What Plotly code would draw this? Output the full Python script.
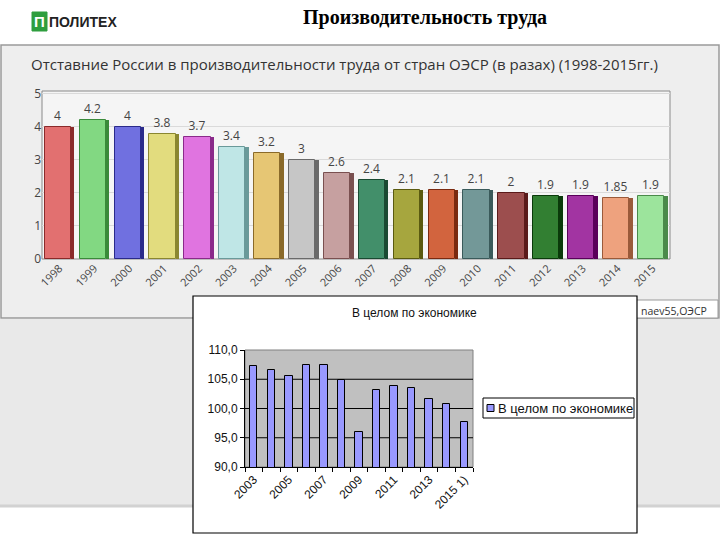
import plotly.graph_objects as go

# ---- data: top chart ----
years_top = ["1998","1999","2000","2001","2002","2003","2004","2005","2006",
             "2007","2008","2009","2010","2011","2012","2013","2014","2015"]
gap_values = [4, 4.2, 4, 3.8, 3.7, 3.4, 3.2, 3, 2.6, 2.4, 2.1, 2.1, 2.1, 2, 1.9, 1.9, 1.85, 1.9]
gap_labels = ["4","4.2","4","3.8","3.7","3.4","3.2","3","2.6","2.4","2.1","2.1","2.1","2","1.9","1.9","1.85","1.9"]
front_colors = ["#e27070","#82d882","#7070e0","#e2dc7e","#e074e0","#bfe6e6","#e6c674","#c6c6c6",
                "#c6a0a0","#428f6a","#a6a63e","#d2643e","#739898","#9c4e4e","#327f32","#a234a2",
                "#eea27e","#9ce49c"]
side_colors = ["#8a2a2a","#3a8a3a","#2a2a8a","#8a8630","#8a2a8a","#6a9a9a","#8a6a2a","#6a6a6a",
               "#7a5050","#1a4a32","#5a5a10","#7a2a10","#3a5a5a","#5a1a1a","#0a3a0a","#5a005a",
               "#9a5a3a","#4a8a4a"]

# ---- data: inset chart ----
years_inset = ["2003","2004","2005","2006","2007","2008","2009","2010","2011","2012","2013","2014","2015 1)"]
inset_values = [107.2, 106.5, 105.5, 107.5, 107.5, 104.8, 95.9, 103.2, 103.9, 103.5, 101.7, 100.7, 97.7]
inset_ticks = [90, 95, 100, 105, 110]
inset_grid = [95, 100, 105]
inset_name = "В целом по экономике"
inset_color = "#9999ff"

W, H = 720, 540
def px(x): return x / W
def py(y): return 1 - y / H

fig = go.Figure()

# top chart: side faces then front faces
fig.add_trace(go.Bar(x=years_top, y=gap_values, width=0.1, offset=0.33,
                     marker=dict(color=side_colors, line=dict(width=0)),
                     showlegend=False, hoverinfo="skip", xaxis="x", yaxis="y"))
fig.add_trace(go.Bar(x=years_top, y=gap_values, width=0.75, offset=-0.42,
                     marker=dict(color=front_colors, line=dict(color=side_colors, width=1)),
                     text=gap_labels, textposition="outside", cliponaxis=False,
                     textfont=dict(family="Open Sans", size=12, color="#444444"),
                     showlegend=False, xaxis="x", yaxis="y"))

# inset chart
fig.add_trace(go.Bar(x=years_inset, y=inset_values, name=inset_name, width=0.42,
                     marker=dict(color=inset_color, line=dict(color="#000000", width=1)),
                     showlegend=False, xaxis="x2", yaxis="y2"))

shapes = [
    # top panel
    dict(type="rect", xref="paper", yref="paper", x0=px(1), x1=px(719), y0=py(318), y1=py(45),
         fillcolor="#eeeeee", line=dict(color="#9a9a9a", width=1.5), layer="below"),
    # gray band below
    dict(type="rect", xref="paper", yref="paper", x0=0, x1=1, y0=py(505), y1=py(319),
         fillcolor="#e9e9e9", line=dict(width=0), layer="below"),
    dict(type="line", xref="paper", yref="paper", x0=0, x1=1, y0=py(506), y1=py(506),
         line=dict(color="#d2d2d2", width=3), layer="below"),
    # top chart plot area
    dict(type="rect", xref="x domain", yref="y domain", x0=0, x1=1, y0=0, y1=1,
         fillcolor="#f5f5f5", line=dict(color="#8a8a8a", width=1), layer="below"),
    # source box
    dict(type="rect", xref="paper", yref="paper", x0=px(600), x1=px(718), y0=py(318), y1=py(300),
         fillcolor="#ffffff", line=dict(color="#9a9a9a", width=1), layer="below"),
    # inset box
    dict(type="rect", xref="paper", yref="paper", x0=px(193), x1=px(637), y0=py(533), y1=py(296),
         fillcolor="#ffffff", line=dict(color="#000000", width=1.2), layer="below"),
    # inset plot area
    dict(type="rect", xref="x2 domain", yref="y2 domain", x0=0, x1=1, y0=0, y1=1,
         fillcolor="#c0c0c0", line=dict(color="#808080", width=1), layer="below"),
    # inset legend box and swatch
    dict(type="rect", xref="paper", yref="paper", x0=px(483), x1=px(634), y0=py(418), y1=py(398),
         fillcolor="#ffffff", line=dict(color="#000000", width=1), layer="below"),
    dict(type="rect", xref="paper", yref="paper", x0=px(487), x1=px(494), y0=py(411.5), y1=py(404.5),
         fillcolor=inset_color, line=dict(color="#000000", width=1), layer="above"),
    # logo
    dict(type="rect", xref="paper", yref="paper", x0=px(32), x1=px(47), y0=py(31), y1=py(12),
         fillcolor="#2e9e3e", line=dict(color="#2e9e3e", width=1), layer="below"),
]
for g in inset_grid:
    shapes.append(dict(type="line", xref="x2 domain", yref="y2", x0=0, x1=1, y0=g, y1=g,
                       line=dict(color="#000000", width=1), layer="below"))

def ann(text, x, y, size, family, color, xanchor="center"):
    return dict(text=text, x=px(x), y=py(y), xref="paper", yref="paper", xanchor=xanchor,
                yanchor="middle", showarrow=False, font=dict(family=family, size=size, color=color))

annotations = [
    ann("<b>Производительность труда</b>", 425, 18, 20, "Liberation Serif", "#000000"),
    ann("<b>П</b>", 39.5, 21.5, 15, "Liberation Sans", "#ffffff"),
    ann("<b>ПОЛИТЕХ</b>", 47, 22, 14, "Liberation Sans Narrow, Liberation Sans", "#222222", "left"),
    ann("Отставние России в производительности труда от стран ОЭСР (в разах) (1998-2015гг.)",
        29, 64, 15, "Open Sans", "#333333", "left"),
    ann("naev55,ОЭСР", 639, 311, 10.5, "Open Sans", "#333333", "left"),
    ann("В целом по экономике", 415, 313, 12, "Liberation Sans Narrow, Liberation Sans", "#111111"),
    ann(inset_name, 496, 408, 13, "Liberation Sans", "#111111", "left"),
]

fig.update_layout(
    template="none",
    width=W, height=H, margin=dict(l=0, r=0, t=0, b=0, pad=0, autoexpand=False),
    paper_bgcolor="#ffffff", plot_bgcolor="rgba(0,0,0,0)",
    separators=", ", barmode="overlay", bargap=0, showlegend=False,
    shapes=shapes, annotations=annotations,
    xaxis=dict(domain=[px(42), px(670)], anchor="y", type="category", range=[-0.5, 17.5],
               automargin=False,
               tickangle=-45, tickfont=dict(family="Open Sans", size=11, color="#444444"),
               showgrid=False, showline=False, ticks="", fixedrange=True),
    yaxis=dict(domain=[py(259), py(91)], anchor="x", range=[0, 5.09], tickvals=[0, 1, 2, 3, 4, 5],
               automargin=False,
               tickfont=dict(family="Open Sans", size=12, color="#444444"),
               showgrid=True, gridcolor="#dadada", gridwidth=1, zeroline=False, ticks="",
               showline=False),
    xaxis2=dict(domain=[px(245), px(473)], anchor="y2", type="category", range=[-0.5, 12.5],
                automargin=False,
                tickvals=years_inset,
                ticktext=[y if i % 2 == 0 else "" for i, y in enumerate(years_inset)],
                tickangle=-45, tickfont=dict(family="Liberation Sans", size=12, color="#111111"),
                tickson="boundaries", ticks="outside", ticklen=4, tickcolor="#000000",
                showline=True, linecolor="#000000", linewidth=1, showgrid=False, zeroline=False),
    yaxis2=dict(domain=[py(467), py(350)], anchor="x2", range=[90, 110], tickvals=inset_ticks,
                automargin=False,
                tickformat=".1f", tickfont=dict(family="Liberation Sans", size=12, color="#111111"),
                ticks="outside", ticklen=4, tickcolor="#000000",
                showline=True, linecolor="#000000", linewidth=1, showgrid=False, zeroline=False),
)

fig.write_html("out.html", config={"displayModeBar": False},
               post_script="document.body.style.margin='0';")
